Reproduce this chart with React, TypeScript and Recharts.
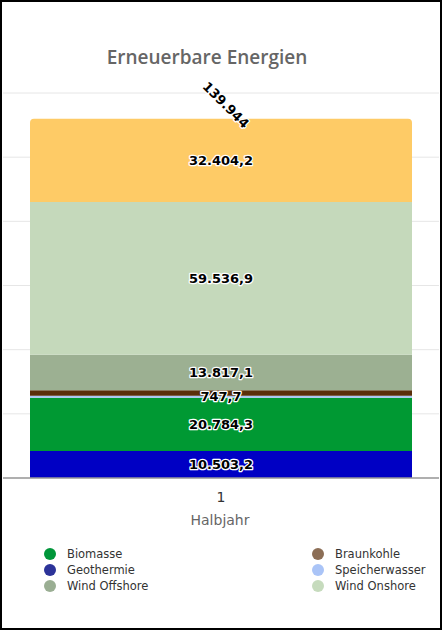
import React from 'react';
import { Bar, BarChart, CartesianGrid, LabelList, XAxis, YAxis } from 'recharts';

const categories = ['1'];
const geothermie = [10503.2];
const biomasse = [20784.3];
const speicherwasser = [747.7];
const braunkohle = [2150.6];
const windOffshore = [13817.1];
const windOnshore = [59536.9];
const solar = [32404.2];
const yTicks = [0, 25000, 50000, 75000, 100000, 125000, 150000];

const series = [
  { key: 'Geothermie', values: geothermie, color: '#0000c4', label: true },
  { key: 'Biomasse', values: biomasse, color: '#009933', label: true },
  { key: 'Speicherwasser', values: speicherwasser, color: '#a9c6f5', label: true },
  { key: 'Braunkohle', values: braunkohle, color: '#5a2e0a', label: false },
  { key: 'Wind Offshore', values: windOffshore, color: '#9cb092', label: true },
  { key: 'Wind Onshore', values: windOnshore, color: '#c5d9bb', label: true },
  { key: 'Solar', values: solar, color: '#fecb66', label: true },
];

const legendItems = [
  { name: 'Biomasse', color: '#00963a' },
  { name: 'Braunkohle', color: '#8c6e56' },
  { name: 'Geothermie', color: '#2c3399' },
  { name: 'Speicherwasser', color: '#aac4f7' },
  { name: 'Wind Offshore', color: '#9aae93' },
  { name: 'Wind Onshore', color: '#c6dbbd' },
];

const data = categories.map((c, i) => {
  const row: { [k: string]: string | number } = { name: c };
  let total = 0;
  series.forEach(s => {
    row[s.key] = s.values[i];
    total += s.values[i];
  });
  row.total = Math.round(total);
  return row;
});

function fmt(v: number, decimals: number) {
  const [int, dec] = v.toFixed(decimals).split('.');
  const grouped = int.replace(/\B(?=(\d{3})+(?!\d))/g, '.');
  return dec ? grouped + ',' + dec : grouped;
}

const font = '"DejaVu Sans", sans-serif';

const SegmentLabel = (props: any) => {
  const { x, y, width, height, value } = props;
  return (
    <text
      x={x + width / 2}
      y={y + height / 2}
      dy="0.36em"
      textAnchor="middle"
      fontFamily={font}
      fontSize={13}
      fontWeight="bold"
      fill="#000"
      stroke="#fff"
      strokeWidth={2.5}
      strokeLinejoin="round"
      paintOrder="stroke"
    >
      {fmt(value, 1)}
    </text>
  );
};

const TotalLabel = (props: any) => {
  const { x, y, width, index } = props;
  const cx = x + width / 2 + 5;
  const cy = y - 14;
  return (
    <text
      x={cx}
      y={cy}
      dy="0.36em"
      textAnchor="middle"
      transform={`rotate(45 ${cx} ${cy})`}
      fontFamily={font}
      fontSize={13}
      fontWeight="bold"
      fill="#000"
      stroke="#fff"
      strokeWidth={2.5}
      strokeLinejoin="round"
      paintOrder="stroke"
    >
      {fmt(data[index].total as number, 0)}
    </text>
  );
};

const Tick = (props: any) => {
  const { x, y, payload } = props;
  return (
    <g>
      <text x={x} y={y + 16} textAnchor="middle" fontFamily={font} fontSize={14} fill="#333">
        {payload.value}
      </text>
      <text x={x - 1} y={y + 39} textAnchor="middle" fontFamily={font} fontSize={14} fill="#666">
        Halbjahr
      </text>
    </g>
  );
};

const App = () => {
  return (
    <div
      style={{
        position: 'absolute',
        left: 0,
        top: 0,
        width: 442,
        height: 630,
        boxSizing: 'border-box',
        border: '2px solid #000',
        background: '#fff',
      }}
    >
      <div
        style={{
          position: 'absolute',
          left: 0,
          width: 410,
          top: 42,
          textAlign: 'center',
          fontFamily: '"Open Sans", sans-serif',
          fontWeight: 600,
          fontSize: 19,
          color: '#666',
        }}
      >
        Erneuerbare Energien
      </div>
      <BarChart
        width={438}
        height={626}
        data={data}
        margin={{ top: 91, right: 1, bottom: 110, left: 1 }}
        barCategoryGap={27}
      >
        <CartesianGrid vertical={false} stroke="#e6e6e6" />
        <YAxis hide domain={[0, 150000]} ticks={yTicks} />
        <XAxis
          dataKey="name"
          axisLine={{ stroke: '#999', strokeWidth: 1.5 }}
          tickLine={false}
          tick={<Tick />}
          height={40}
        />
        {series.map((s, i) => (
          <Bar
            key={s.key}
            dataKey={s.key}
            stackId="a"
            fill={s.color}
            isAnimationActive={false}
            radius={i === series.length - 1 ? [4, 4, 0, 0] : 0}
          >
            {s.label && <LabelList dataKey={s.key} content={<SegmentLabel />} />}
            {i === series.length - 1 && <LabelList dataKey="total" content={<TotalLabel />} />}
          </Bar>
        ))}
      </BarChart>
      <div
        style={{
          position: 'absolute',
          left: 42,
          top: 545,
          display: 'grid',
          gridTemplateColumns: '268px 120px',
          rowGap: 3,
          fontFamily: font,
          fontSize: 11.5,
          color: '#333',
        }}
      >
        {legendItems.map(item => (
          <div key={item.name} style={{ display: 'flex', alignItems: 'center', height: 13 }}>
            <span
              style={{
                width: 12,
                height: 12,
                borderRadius: 6,
                background: item.color,
                display: 'inline-block',
                marginRight: 11,
              }}
            />
            {item.name}
          </div>
        ))}
      </div>
    </div>
  );
};

export default App;
